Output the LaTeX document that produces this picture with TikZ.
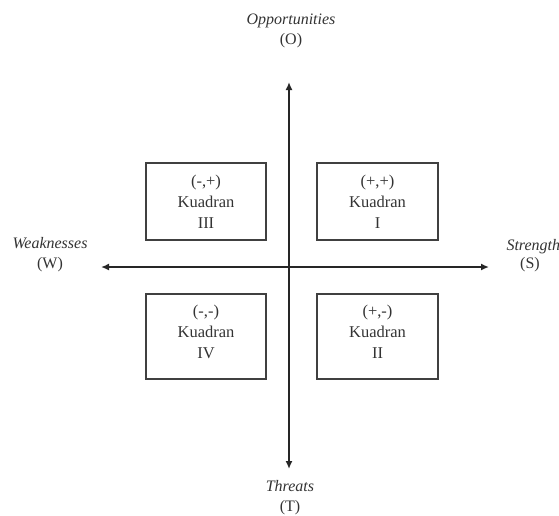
\documentclass[tikz,border=0pt]{standalone}
\usepackage{fontspec}
\setmainfont{Liberation Serif}
\usetikzlibrary{arrows.meta,fit}
\begin{document}
\begin{tikzpicture}[x=1pt,y=-1pt,
  quad/.style={draw=black!75,line width=1.3pt,inner sep=0pt},
  qtext/.style={align=center,font=\fontsize{16.5}{21}\selectfont,text=black!80},
  lab/.style={align=center,font=\fontsize{16}{20}\selectfont,text=black!80},
  axis/.style={line width=1.6pt,black!85,-{Latex[length=8pt,width=7pt]}}]
\useasboundingbox (0,0) rectangle (559,515);
\coordinate (c) at (289,267);
\coordinate (top) at (289,82);
\coordinate (bot) at (289,469);
\coordinate (lft) at (101,267);
\coordinate (rgt) at (489,267);
\draw[axis] (c) -- (top);
\draw[axis] (c) -- (bot);
\draw[axis] (c) -- (lft);
\draw[axis] (c) -- (rgt);
\coordinate (a3) at (146,163); \coordinate (b3) at (266,240);
\coordinate (a1) at (317,163); \coordinate (b1) at (438,240);
\coordinate (a4) at (146,294); \coordinate (b4) at (266,379);
\coordinate (a2) at (317,294); \coordinate (b2) at (438,379);
\node[quad,fit=(a3)(b3)] (q3) {};
\node[quad,fit=(a1)(b1)] (q1) {};
\node[quad,fit=(a4)(b4)] (q4) {};
\node[quad,fit=(a2)(b2)] (q2) {};
\node[qtext] (t3) at (206,201.5) {(-,+)\\Kuadran\\III};
\node[qtext] (t1) at (377.5,201.5) {(+,+)\\Kuadran\\I};
\node[qtext] (t4) at (206,331.5) {(-,-)\\Kuadran\\IV};
\node[qtext] (t2) at (377.5,331.5) {(+,-)\\Kuadran\\II};
\node[lab] (o) at (291,31) {\textit{Opportunities}\\(O)};
\node[lab] (w) at (50,255) {\textit{Weaknesses}\\(W)};
\node[lab,anchor=north west] (s) at (503,236) {\textit{Strength}};
\node[lab] (sl) at (530,265) {(S)};
\node[lab] (t) at (290,498) {\textit{Threats}\\(T)};
\end{tikzpicture}
\end{document}
